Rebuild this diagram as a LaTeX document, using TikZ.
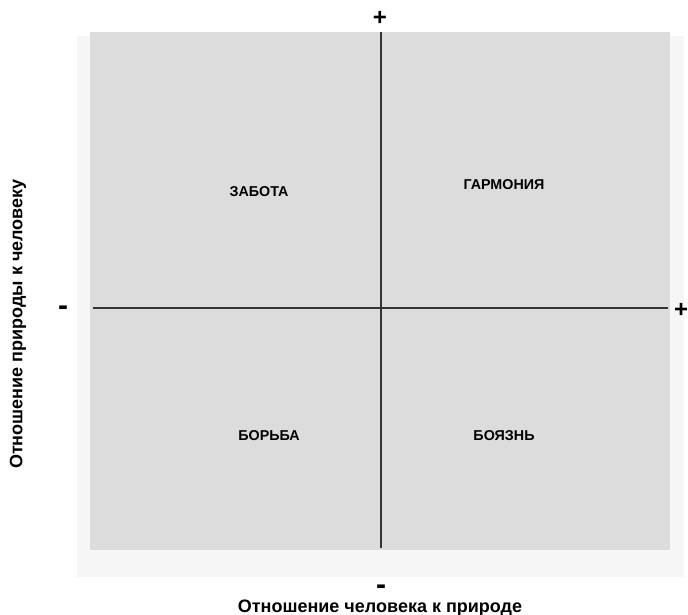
\documentclass[tikz,border=0pt]{standalone}
\usepackage{fontspec}
\setmainfont{Liberation Sans}
\usetikzlibrary{positioning}

\definecolor{fieldgray}{HTML}{DCDCDC}
\definecolor{shadegray}{HTML}{F6F6F6}
\definecolor{axisgray}{HTML}{333333}

\tikzset{
  quadlabel/.style={font=\bfseries\fontsize{14.3}{16}\selectfont, inner sep=0pt},
  pluslabel/.style={font=\bfseries\fontsize{24}{26}\selectfont, inner sep=0pt},
  minuslabel/.style={font=\bfseries\fontsize{30}{32}\selectfont, inner sep=0pt},
  axislabel/.style={font=\bfseries\fontsize{18}{20}\selectfont, inner sep=0pt}
}

\begin{document}
\begin{tikzpicture}[x=1pt, y=-1pt]
  \useasboundingbox (0,0) rectangle (688,615);

  \fill[shadegray] (77,36) rectangle (684,577);
  \fill[fieldgray] (90,32) rectangle (670,550);

  \coordinate (top) at (381,32);
  \coordinate (bottom) at (381,548);
  \coordinate (left) at (93,308);
  \coordinate (right) at (668,308);
  \draw[axisgray, line width=1.2pt] (top) -- (bottom);
  \draw[axisgray, line width=1.2pt] (left) -- (right);

  \node[pluslabel] (plustop) at (380,18) {+};
  \node[pluslabel] (plusright) at (681,310) {+};
  \node[minuslabel] (minusleft) at (63,311) {-};
  \node[minuslabel] (minusbottom) at (381,590) {-};

  \node[quadlabel] (care) at (259,192) {ЗАБОТА};
  \node[quadlabel] (harmony) at (504,185) {ГАРМОНИЯ};
  \node[quadlabel] (struggle) at (269,436) {БОРЬБА};
  \node[quadlabel] (fear) at (504,436) {БОЯЗНЬ};

  \node[axislabel] (xlabel) at (380,608) {Отношение человека к природе};
  \node[axislabel, rotate=90] (ylabel) at (18,324) {Отношение природы к человеку};
\end{tikzpicture}
\end{document}
